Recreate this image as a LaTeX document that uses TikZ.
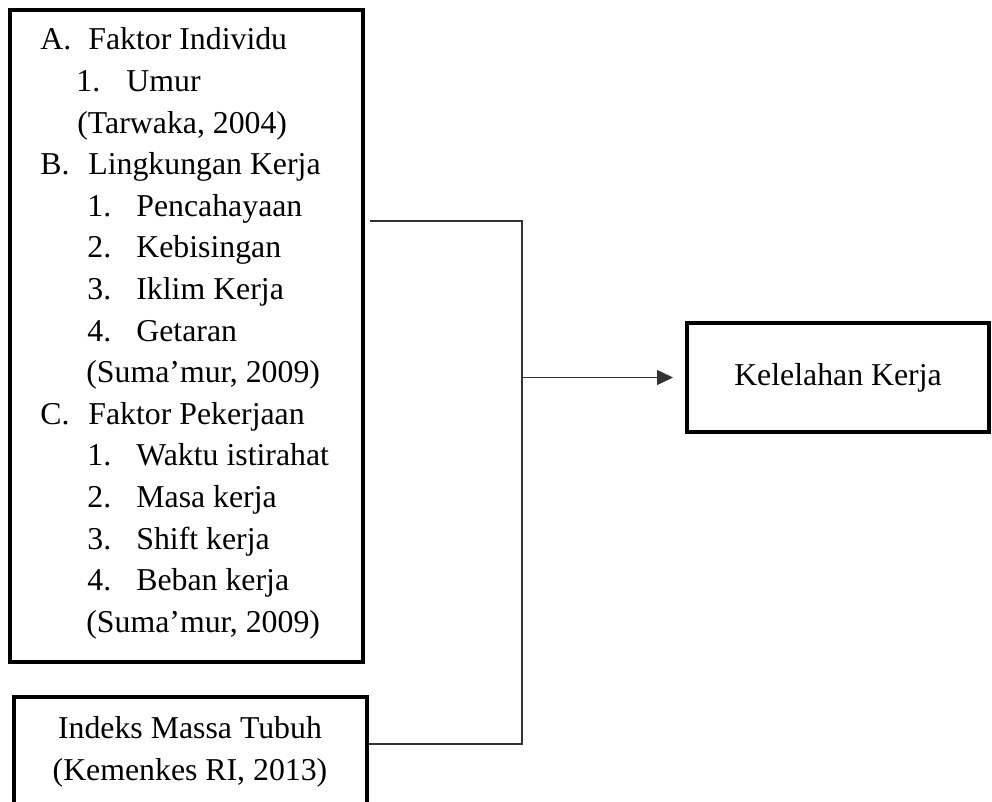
\documentclass[tikz,border=0pt]{standalone}
\usepackage{fontspec}
\setmainfont{Liberation Serif}
\usetikzlibrary{arrows.meta,positioning}

\begin{document}
\begin{tikzpicture}[
    x=0.5pt, y=-0.5pt,
    >={Triangle[length=8pt,width=7.5pt]},
    kotak/.style={rectangle, draw=black, line width=2pt, inner sep=0pt},
    baris/.style={anchor=base west, inner sep=0pt, font=\fontsize{15.9pt}{20.8pt}\selectfont},
    tengah/.style={anchor=base, inner sep=0pt, font=\fontsize{15.9pt}{20.8pt}\selectfont},
    garis/.style={line width=0.7pt, black!80}
]
\useasboundingbox (0,0) rectangle (992,802);

% Kotak faktor-faktor
\node[kotak, minimum width=176.5pt, minimum height=326pt] (faktor) at (186.5,336) {};

% A. Faktor Individu
\node[baris] (nA) at (40,50) {A.};
\node[baris] (tA) at (88,50) {Faktor Individu};
\node[baris] (nA1) at (76,91.6) {1.};
\node[baris] (tA1) at (126,91.6) {Umur};
\node[baris] (sA) at (77,133.2) {(Tarwaka, 2004)};

% B. Lingkungan Kerja
\node[baris] (nB) at (40,174.8) {B.};
\node[baris] (tB) at (88,174.8) {Lingkungan Kerja};
\node[baris] (nB1) at (87,216.4) {1.};
\node[baris] (tB1) at (136,216.4) {Pencahayaan};
\node[baris] (nB2) at (87,258) {2.};
\node[baris] (tB2) at (136,258) {Kebisingan};
\node[baris] (nB3) at (87,299.6) {3.};
\node[baris] (tB3) at (136,299.6) {Iklim Kerja};
\node[baris] (nB4) at (87,341.2) {4.};
\node[baris] (tB4) at (136,341.2) {Getaran};
\node[baris] (sB) at (86,382.8) {(Suma’mur, 2009)};

% C. Faktor Pekerjaan
\node[baris] (nC) at (40,424.4) {C.};
\node[baris] (tC) at (88,424.4) {Faktor Pekerjaan};
\node[baris] (nC1) at (87,466) {1.};
\node[baris] (tC1) at (136,466) {Waktu istirahat};
\node[baris] (nC2) at (87,507.6) {2.};
\node[baris] (tC2) at (136,507.6) {Masa kerja};
\node[baris] (nC3) at (87,549.2) {3.};
\node[baris] (tC3) at (136,549.2) {Shift kerja};
\node[baris] (nC4) at (87,590.8) {4.};
\node[baris] (tC4) at (136,590.8) {Beban kerja};
\node[baris] (sC) at (86,632.4) {(Suma’mur, 2009)};

% Kotak indeks massa tubuh
\node[kotak, minimum width=176.5pt, minimum height=66.5pt] (imt) at (190.5,763.5) {};
\node[tengah] (imt1) at (190,738) {Indeks Massa Tubuh};
\node[tengah] (imt2) at (190,780) {(Kemenkes RI, 2013)};

% Kotak kelelahan kerja
\node[kotak, minimum width=151pt, minimum height=54.5pt,
      font=\fontsize{15.9pt}{20.8pt}\selectfont] (kelelahan) at (838,377.5) {Kelelahan Kerja};

% Titik sambungan
\coordinate (j1) at (522,221);
\coordinate (j2) at (522,377.5);
\coordinate (j3) at (522,744);

% Garis penghubung
\draw[garis] (faktor.east |- j1) ++(5,0) -- (j1) -- (j3) -- (imt.east |- j3);
\draw[garis, ->, shorten >=6pt] (j2) -- (kelelahan.west);

\end{tikzpicture}
\end{document}
